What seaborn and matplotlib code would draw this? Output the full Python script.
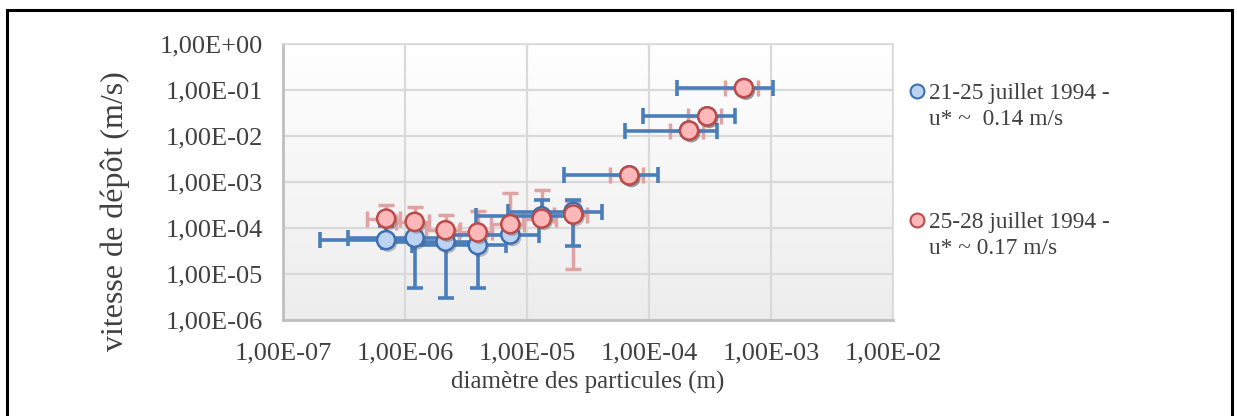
import numpy as np
import pandas as pd
import matplotlib
matplotlib.use("Agg")
import matplotlib.pyplot as plt
import matplotlib.patheffects as pe
from matplotlib.colors import LinearSegmentedColormap
from matplotlib.lines import Line2D
from matplotlib.patches import Rectangle
from matplotlib.ticker import FixedLocator, LogLocator, FuncFormatter, NullFormatter
import seaborn as sns

# ---- data -------------------------------------------------------------
diametre = [7.0e-7, 1.2e-6, 2.15e-6, 3.95e-6, 7.3e-6, 1.32e-5, 2.4e-5,
            6.9e-5, 2.13e-4, 3.0e-4, 6.0e-4]

# 21-25 juillet 1994
diam_err_a = [5.0e-7, 8.6e-7, 1.5e-6, 2.8e-6, 5.2e-6, 9.4e-6, 1.7e-5,
              4.9e-5, 1.5e-4, 2.1e-4, 4.3e-4]
vitesse_a = [5.45e-5, 6.1e-5, 5.05e-5, 4.25e-5, 7.2e-5, 1.8e-4, 2.25e-4,
             1.39e-3, 1.31e-2, 2.67e-2, 1.1e-1]
vit_err_a = [5.5e-5, 5.6e-5, 4.75e-5, 3.75e-5, 7.2e-5, 2.2e-4, 1.85e-4,
             0, 0, 0, 0]

# 25-28 juillet 1994
diam_err_b = [2.1e-7, 3.6e-7, 6.5e-7, 1.2e-6, 2.2e-6, 4.0e-6, 7.2e-6,
              2.1e-5, 6.4e-5, 9.0e-5, 1.8e-4]
vitesse_b = [1.6e-4, 1.36e-4, 8.95e-5, 8.0e-5, 1.21e-4, 1.6e-4, 1.96e-4,
             1.39e-3, 1.31e-2, 2.67e-2, 1.1e-1]
vit_err_b = [1.6e-4, 1.5e-4, 1.07e-4, 1.5e-4, 4.55e-4, 5.2e-4, 1.83e-4,
             0, 0, 0, 0]

series_labels = ["21-25 juillet 1994 -\nu* ~  0.14 m/s",
                 "25-28 juillet 1994 -\nu* ~ 0.17 m/s"]
x_ticks = [1e-7, 1e-6, 1e-5, 1e-4, 1e-3, 1e-2]
y_ticks = [1e-6, 1e-5, 1e-4, 1e-3, 1e-2, 1e-1, 1e0]
x_title = "diamètre des particules (m)"
y_title = "vitesse de dépôt (m/s)"

# ---- style ------------------------------------------------------------
sns.set_theme(style="white")
plt.rcParams["font.family"] = ["Liberation Serif", "DejaVu Serif"]
TXT = "#404040"

W, H = 1237, 416
fig = plt.figure(figsize=(W / 100, H / 100), dpi=100)
fig.patch.set_facecolor("white")

pos = [283 / W, 96 / H, 610 / W, 276 / H]

# gradient fill of the plot area
bg = fig.add_axes(pos, zorder=0)
grad = np.linspace(1, 0, 256).reshape(-1, 1)
cmap_bg = LinearSegmentedColormap.from_list("bg", ["#EDEDED", "#FFFFFF"])
bg.imshow(grad, aspect="auto", cmap=cmap_bg, extent=[0, 1, 0, 1], origin="upper")
bg.set_axis_off()

ax = fig.add_axes(pos, zorder=1)
ax.set_facecolor("none")
ax.set_xscale("log")
ax.set_yscale("log")

BLUE_LINE = "#4A7EBB"
BLUE_FILL = "#BCD3F2"
BLUE_EDGE = "#3D6FB3"
RED_LINE = "#E0A2A2"
RED_FILL = "#FDB9B9"
RED_EDGE = "#BE4B48"


def lower_part(v, e):
    # a symmetric error that reaches zero cannot be shown below on a log axis
    v = np.asarray(v)
    e = np.asarray(e)
    return np.where(e < v * 0.999, e, 0.0)


d = np.asarray(diametre)

ax.errorbar(d, vitesse_b,
            xerr=diam_err_b,
            yerr=[lower_part(vitesse_b, vit_err_b), vit_err_b],
            fmt="none", ecolor=RED_LINE, elinewidth=2.5, capsize=6,
            capthick=2.5, zorder=2)
ax.errorbar(d, vitesse_a,
            xerr=diam_err_a,
            yerr=[lower_part(vitesse_a, vit_err_a), vit_err_a],
            fmt="none", ecolor=BLUE_LINE, elinewidth=2.6, capsize=6,
            capthick=2.6, zorder=3)

df = pd.DataFrame({
    "diametre": np.concatenate([d, d]),
    "vitesse": np.concatenate([vitesse_a, vitesse_b]),
    "serie": [series_labels[0]] * len(d) + [series_labels[1]] * len(d),
})

shadow = [pe.SimplePatchShadow(offset=(1.5, -2), alpha=0.35, shadow_rgbFace="#555555"),
          pe.Normal()]
for lab, fc, ec, z in [(series_labels[0], BLUE_FILL, BLUE_EDGE, 4),
                       (series_labels[1], RED_FILL, RED_EDGE, 5)]:
    sub = df[df["serie"] == lab]
    sns.scatterplot(data=sub, x="diametre", y="vitesse", ax=ax, s=170,
                    color=fc, edgecolor=ec, linewidth=1.8, zorder=z,
                    legend=False)
    ax.collections[-1].set_path_effects(shadow)

ax.set_xlim(1e-7, 1e-2)
ax.set_ylim(1e-6, 1e0)


def fr_sci(v, pos=None):
    e = int(np.floor(np.log10(v) + 1e-9))
    m = v / 10 ** e
    return f"{m:.2f}".replace(".", ",") + f"E{'+' if e >= 0 else '-'}{abs(e):02d}"


ax.xaxis.set_major_locator(FixedLocator(x_ticks))
ax.yaxis.set_major_locator(FixedLocator(y_ticks))
ax.xaxis.set_major_formatter(FuncFormatter(fr_sci))
ax.yaxis.set_major_formatter(FuncFormatter(fr_sci))
ax.xaxis.set_minor_locator(LogLocator(base=10, subs=np.arange(2, 10), numticks=20))
ax.yaxis.set_minor_locator(LogLocator(base=10, subs=np.arange(2, 10), numticks=20))
ax.xaxis.set_minor_formatter(NullFormatter())
ax.yaxis.set_minor_formatter(NullFormatter())

ax.grid(True, which="major", color="#D9D9D9", linewidth=1.6, zorder=1)
ax.set_axisbelow(True)
for side in ["top", "right"]:
    ax.spines[side].set_color("#D9D9D9")
    ax.spines[side].set_linewidth(1.2)
for side in ["left", "bottom"]:
    ax.spines[side].set_color("#BFBFBF")
    ax.spines[side].set_linewidth(2.0)

ax.tick_params(which="major", direction="inout", length=7, width=1.4,
               color="#BFBFBF", labelsize=19, labelcolor=TXT, pad=11)
ax.tick_params(which="minor", direction="in", length=4, width=1.2,
               color="#BFBFBF")
ax.tick_params(axis="x", which="major", pad=13)

ax.set_xlabel(x_title, fontsize=18, color=TXT, labelpad=4)
ax.set_ylabel(y_title, fontsize=23, color=TXT)
ax.yaxis.set_label_coords((130 - 283) / 610, (416 - 211 - 96) / 276)

# legend
leg_x = 917 / W
for (lab, fc, ec), yy in zip([(series_labels[0], BLUE_FILL, BLUE_EDGE),
                              (series_labels[1], RED_FILL, RED_EDGE)],
                             [91, 220]):
    fig.add_artist(Line2D([leg_x], [1 - yy / H], transform=fig.transFigure,
                          marker="o", markersize=10, markerfacecolor=fc,
                          markeredgecolor=ec, markeredgewidth=1.5,
                          linestyle="none"))
    fig.text(929 / W, 1 - (yy - 8) / H, lab, fontsize=16.8, color=TXT,
             ha="left", va="top", linespacing=1.32)

# outer chart border
fig.add_artist(Rectangle((7 / W, -0.02), (1232 - 7) / W, 1 - 10 / H + 0.02,
                         transform=fig.transFigure, fill=False,
                         edgecolor="black", linewidth=2.2))

fig.savefig("out.png", dpi=100)
